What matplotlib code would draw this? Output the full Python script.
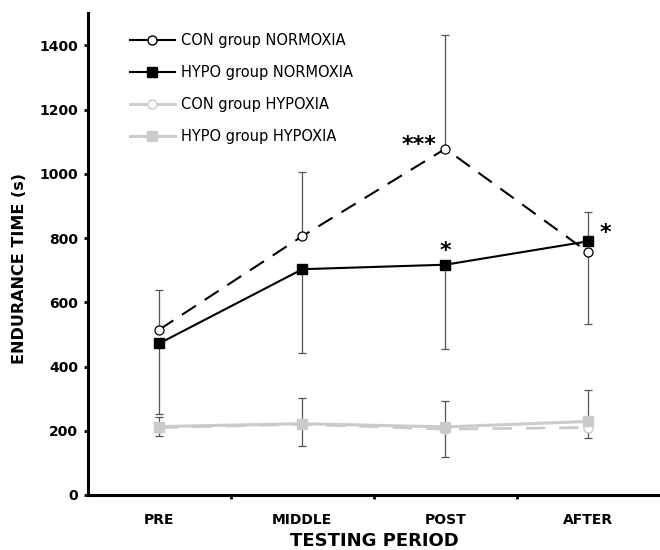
import numpy as np
import matplotlib
matplotlib.use('Agg')
import matplotlib.pyplot as plt
from matplotlib.lines import Line2D

# ── data ───────────────────────────────────────────────
periods = ['PRE', 'MIDDLE', 'POST', 'AFTER']

con_norm = [515, 806, 1078, 755]
con_norm_lo = [0, 0, 0, 223]
con_norm_hi = [122, 201, 355, 0]

hypo_norm = [472, 703, 717, 790]
hypo_norm_lo = [220, 260, 261, 0]
hypo_norm_hi = [0, 0, 0, 90]

con_hyp = [210, 220, 205, 210]
con_hyp_lo = [26, 69, 87, 31]
con_hyp_hi = [0, 0, 0, 0]

hypo_hyp = [213, 222, 212, 229]
hypo_hyp_lo = [0, 0, 0, 0]
hypo_hyp_hi = [29, 81, 80, 98]

labels = ['CON group NORMOXIA', 'HYPO group NORMOXIA',
          'CON group HYPOXIA', 'HYPO group HYPOXIA']

# ── style ──────────────────────────────────────────────
BLACK = '#000000'
LGRAY = '#cbcbcb'
ERR = '#555555'

x = np.arange(len(periods)) + 0.5

fig = plt.figure(figsize=(6.6, 5.5), dpi=100)
ax = fig.add_axes([0.133, 0.100, 0.867, 0.876])

eb = dict(fmt='none', ecolor=ERR, elinewidth=0.9, capsize=3.2, capthick=0.9, zorder=1)
ax.errorbar(x, hypo_hyp, yerr=[hypo_hyp_lo, hypo_hyp_hi], **eb)
ax.errorbar(x, con_hyp, yerr=[con_hyp_lo, con_hyp_hi], **eb)
ax.errorbar(x, con_norm, yerr=[con_norm_lo, con_norm_hi], **eb)
ax.errorbar(x, hypo_norm, yerr=[hypo_norm_lo, hypo_norm_hi], **eb)

ax.plot(x, con_hyp, color=LGRAY, lw=2.0, dashes=(7, 5), marker='o', ms=6.5,
        mfc='white', mec=LGRAY, mew=1.0, zorder=2)
ax.plot(x, hypo_hyp, color=LGRAY, lw=2.2, marker='s', ms=7.5,
        mfc=LGRAY, mec=LGRAY, zorder=3)
ax.plot(x, con_norm, color=BLACK, lw=1.5, dashes=(8, 5), marker='o', ms=6.5,
        mfc='white', mec=BLACK, mew=0.9, zorder=4)
ax.plot(x, hypo_norm, color=BLACK, lw=1.5, marker='s', ms=7,
        mfc=BLACK, mec=BLACK, zorder=5)

# significance marks
star = dict(ha='center', va='center', fontsize=16, fontweight='bold',
            textcoords='offset points')
ax.annotate('***', (x[2], con_norm[2]), xytext=(-19, 3), **star)
ax.annotate('*', (x[2], hypo_norm[2]), xytext=(0, 10), **star)
ax.annotate('*', (x[3], hypo_norm[3]), xytext=(12, 6), **star)

# axes
ax.set_xlim(0, 4)
ax.set_ylim(0, 1500)
ax.set_yticks(np.arange(0, 1401, 200))
ax.set_xticks([1, 2, 3], minor=False)
ax.set_xticks(x, minor=True)
ax.set_xticklabels(['', '', ''])
ax.set_xticklabels(periods, minor=True, fontweight='bold', fontsize=10)
ax.tick_params(axis='x', which='major', length=3, width=2, direction='out')
ax.tick_params(axis='x', which='minor', length=0, pad=13)
ax.tick_params(axis='y', length=3, width=2, direction='out', pad=4)
for t in ax.get_yticklabels():
    t.set_fontweight('bold')
    t.set_fontsize(10)

for s in ['top', 'right']:
    ax.spines[s].set_visible(False)
for s in ['left', 'bottom']:
    ax.spines[s].set_linewidth(2.2)

ax.set_ylabel('ENDURANCE TIME (s)', fontweight='bold', fontsize=11.5)
ax.yaxis.set_label_coords(-0.107, 0.47)
ax.set_xlabel('TESTING PERIOD', fontweight='bold', fontsize=13)
ax.xaxis.set_label_coords(0.5, -0.076)

handles = [
    Line2D([], [], color=BLACK, lw=1.5, marker='o', ms=6.5, mfc='white', mec=BLACK),
    Line2D([], [], color=BLACK, lw=1.5, marker='s', ms=7, mfc=BLACK, mec=BLACK),
    Line2D([], [], color=LGRAY, lw=2.0, marker='o', ms=6.5, mfc='white', mec=LGRAY),
    Line2D([], [], color=LGRAY, lw=2.2, marker='s', ms=7.5, mfc=LGRAY, mec=LGRAY),
]
ax.legend(handles, labels, loc='upper left', bbox_to_anchor=(0.073, 0.958),
          frameon=False, fontsize=10.5, labelspacing=1.15, handlelength=3.1,
          handletextpad=0.4, borderpad=0, borderaxespad=0)

fig.savefig('out.png', dpi=100)
